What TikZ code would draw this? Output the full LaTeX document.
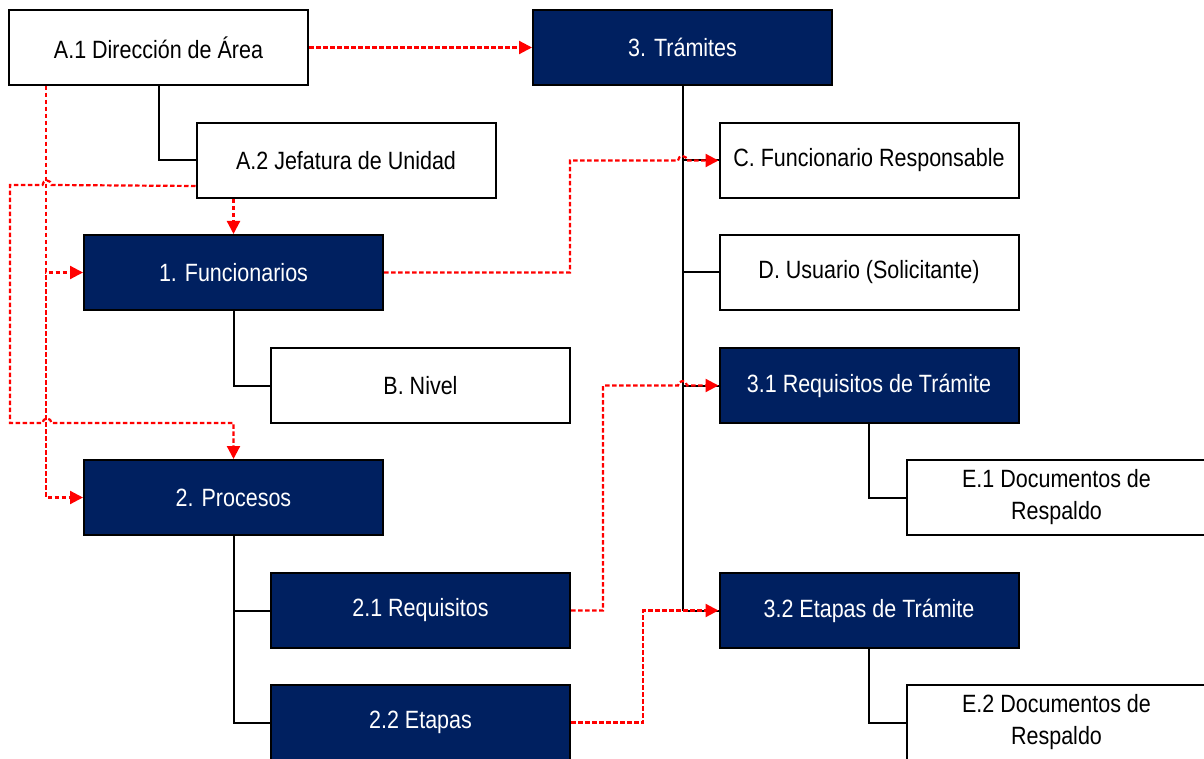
\documentclass[tikz,border=0pt]{standalone}
\usepackage{fontspec}
\setmainfont{Liberation Sans}[FakeStretch=0.86]
\usetikzlibrary{arrows.meta,calc}
\definecolor{navy}{HTML}{002060}
\definecolor{redline}{HTML}{FF0000}
\begin{document}
\begin{tikzpicture}[x=1pt,y=-1pt,
  box/.style={draw=black,line width=2pt,minimum width=299pt,minimum height=75pt,inner sep=0pt,align=center,font=\fontsize{25}{32}\selectfont,fill=white,text=black},
  darkbox/.style={box,fill=navy,text=white},
  tree/.style={draw=black,line width=2pt},
  rel/.style={draw=redline,line width=2.2pt,dash pattern=on 4.5pt off 2.5pt},
  relarrow/.style={rel,-{Triangle[length=13pt,width=13pt,fill=redline]}}
]
\useasboundingbox (0,0) rectangle (1204,759);
% tree connectors
\draw[tree] (158.5,85) |- (196,160.5);
\draw[tree] (682.5,85) -- (682.5,610.5);
\draw[tree] (682.5,160.5) -- (720,160.5);
\draw[tree] (682.5,272.5) -- (720,272.5);
\draw[tree] (682.5,385.5) -- (720,385.5);
\draw[tree] (682.5,610.5) -- (720,610.5);
\draw[tree] (233.5,310) |- (271,385.5);
\draw[tree] (233.5,535) |- (271,722.5);
\draw[tree] (233.5,610.5) -- (271,610.5);
\draw[tree] (869,423) |- (907,497.5);
\draw[tree] (869,648) |- (907,722.5);
% nodes
\node[box] (A1) at (158.5,47.5) {A.1 Dirección de Área};
\node[box] (A2) at (346,160.5) {A.2 Jefatura de Unidad};
\node[darkbox] (T3) at (682.5,47.5) {3. Trámites};
\node[box] (C) at (869,160.5) {C. Funcionario Responsable};
\node[box] (D) at (869,272.5) {D. Usuario (Solicitante)};
\node[darkbox] (T31) at (869,385.5) {3.1 Requisitos de Trámite};
\node[box] (E1) at (1056.5,497.5) {E.1 Documentos de\\Respaldo};
\node[darkbox] (T32) at (869,610.5) {3.2 Etapas de Trámite};
\node[box] (E2) at (1056.5,722.5) {E.2 Documentos de\\Respaldo};
\node[darkbox] (F1) at (233.5,272.5) {1. Funcionarios};
\node[box] (B) at (420.5,385.5) {B. Nivel};
\node[darkbox] (P2) at (233.5,497.5) {2. Procesos};
\node[darkbox] (R21) at (420.5,610.5) {2.1 Requisitos};
\node[darkbox] (R22) at (420.5,722.5) {2.2 Etapas};
% red relations
\draw[relarrow] (A1.east) -- (T3.west);
\coordinate (a1x) at ($(A1.south west)+(38,0)$);
\draw[relarrow] (a1x) |- (F1.west);
\draw[relarrow] (a1x) |- (P2.west);
\draw[relarrow] (A2.south -| F1.north) -- (F1.north);
\draw[relarrow] ($(A2.south west)+(0,-13)$) -- (51.5,185) arc[start angle=0,end angle=180,radius=4.5pt] -- (10,185) -- (10,423) -- (42.5,423) arc[start angle=180,end angle=0,radius=4.5pt] -- (233.5,423) -- (P2.north);
\draw[relarrow] (F1.east) -- (570,272.5) -- (570,160.5) -- (678,160.5) arc[start angle=180,end angle=0,radius=4.5pt] -- (C.west);
\draw[relarrow] (R21.east) -- (603,610.5) -- (603,385.5) -- (678,385.5) arc[start angle=180,end angle=0,radius=4.5pt] -- (T31.west);
\draw[relarrow] (R22.east) -- (643,722.5) -- (643,610.5) -- (T32.west);
\end{tikzpicture}
\end{document}
